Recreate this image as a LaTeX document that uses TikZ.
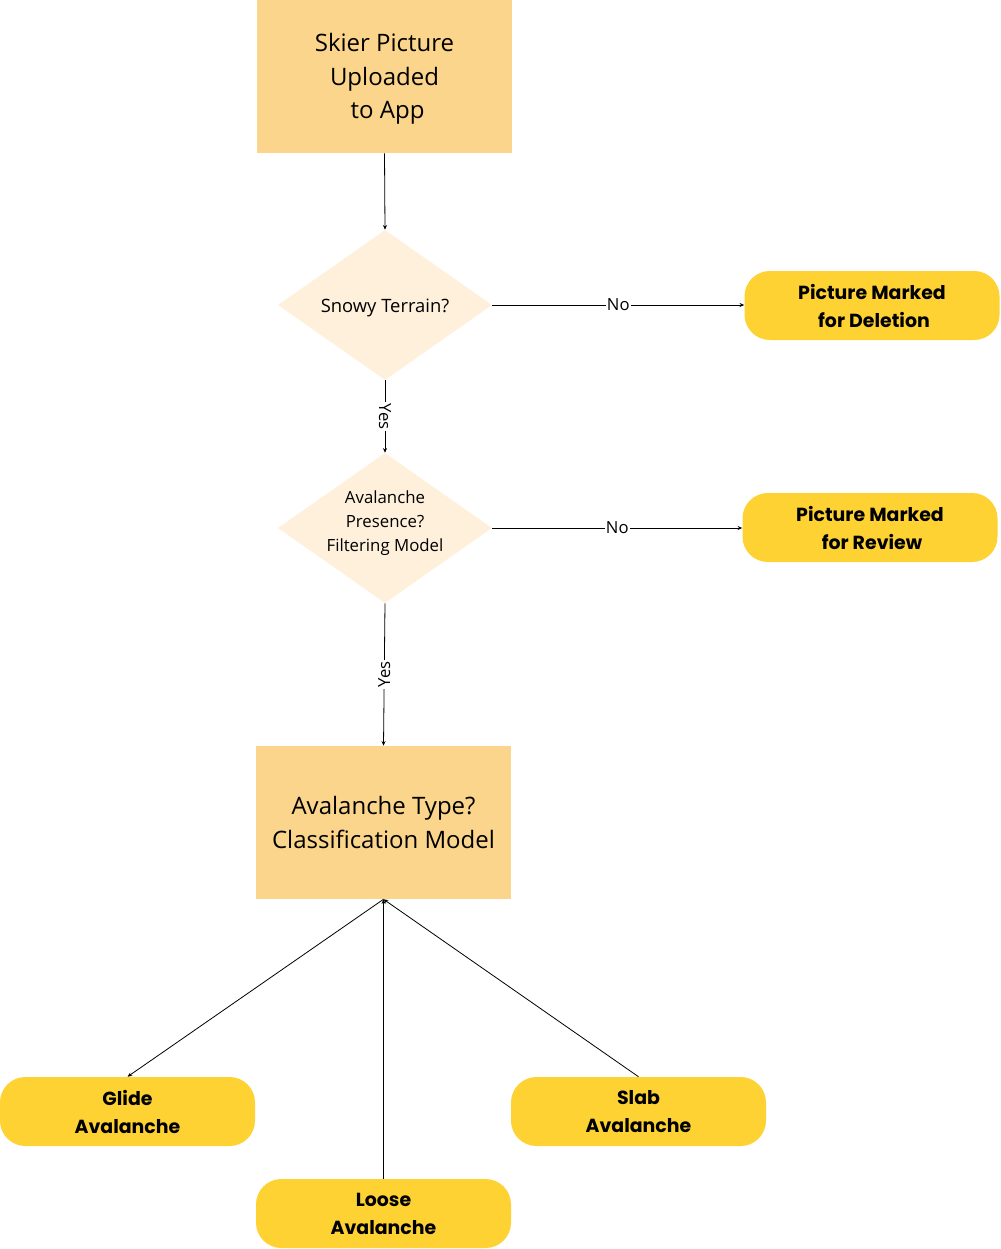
\documentclass[tikz,border=0pt]{standalone}
\usepackage{fontspec}
\setmainfont{Open Sans}
\newfontfamily\boldfam{Poppins}
\usetikzlibrary{shapes.geometric,arrows.meta}
\definecolor{boxorange}{HTML}{FAD58B}
\definecolor{diamfill}{HTML}{FEF0DB}
\definecolor{pillyellow}{HTML}{FED233}
\begin{document}
\begin{tikzpicture}[x=0.75pt,y=-0.75pt,
  sqbox/.style={fill=boxorange,minimum width=255*0.75pt,minimum height=153*0.75pt,align=center,font=\fontsize{18}{25}\selectfont,inner sep=0pt},
  diam/.style={diamond,fill=diamfill,minimum width=214*0.75pt,minimum height=150*0.75pt,aspect=1.43,align=center,inner sep=0pt},
  pill/.style={fill=pillyellow,rounded corners=19pt,minimum width=255*0.75pt,minimum height=69*0.75pt,align=center,inner sep=0pt,font=\boldfam\bfseries\fontsize{14.2}{21}\selectfont},
  conn/.style={draw=black,line width=0.6pt,-{Stealth[length=3.5pt,width=3pt]}},
  lbl/.style={fill=white,inner sep=1pt,font=\fontsize{12.5}{14}\selectfont}
]
\useasboundingbox[fill=white] (0,0) rectangle (1000,1249);
\node[sqbox] (upload) at (384.5,76.5) {};
\node[align=center,font=\fontsize{18}{25}\selectfont] (uploadt) at (384.5,79) {Skier Picture\\Uploaded\\\ to App};
\node[diam] (snowy) at (385,305) {};
\node[font=\fontsize{13.8}{16}\selectfont] (snowyt) at (385,307.5) {Snowy Terrain?};
\node[diam] (aval) at (385,528) {};
\node[align=center,font=\fontsize{12.6}{18}\selectfont] (avalt) at (385,523) {Avalanche\\Presence?\\Filtering Model};
\node[pill] (del) at (872,305.5) {Picture Marked\\\ for Deletion};
\node[pill] (rev) at (870,527.5) {Picture Marked\\\ for Review};
\node[sqbox] (cls) at (383.5,822.5) {Avalanche Type?\\Classification Model};
\node[pill] (glide) at (127.5,1111.5) {Glide\\Avalanche};
\node[pill] (slab) at (638.5,1111.5) {Slab\\Avalanche};
\node[pill] (loose) at (383.5,1213.5) {Loose\\Avalanche};
\draw[conn] (upload.south) -- (snowy.north);
\draw[conn] (snowy.east) -- node[lbl]{No} (snowy.east -| del.west);
\draw[conn] (snowy.south) -- node[lbl,rotate=-90]{Yes} (aval.north);
\draw[conn] (aval.east) -- node[lbl]{No} (aval.east -| rev.west);
\draw[conn] (aval.south) -- node[lbl,rotate=90]{Yes} (cls.north);
\draw[conn] (cls.south) -- (glide.north);
\draw[conn] (loose.north) -- (cls.south);
\draw[conn] (slab.north) -- (cls.south);
\end{tikzpicture}
\end{document}
